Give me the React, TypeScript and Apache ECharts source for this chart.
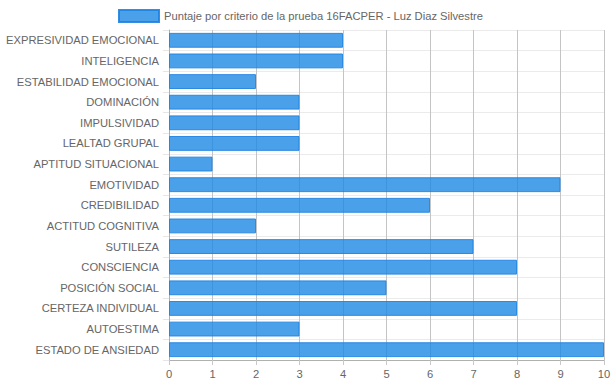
import React, { useEffect, useRef } from "react";
import * as echarts from "echarts";

const categories = [
  "EXPRESIVIDAD EMOCIONAL",
  "INTELIGENCIA",
  "ESTABILIDAD EMOCIONAL",
  "DOMINACIÓN",
  "IMPULSIVIDAD",
  "LEALTAD GRUPAL",
  "APTITUD SITUACIONAL",
  "EMOTIVIDAD",
  "CREDIBILIDAD",
  "ACTITUD COGNITIVA",
  "SUTILEZA",
  "CONSCIENCIA",
  "POSICIÓN SOCIAL",
  "CERTEZA INDIVIDUAL",
  "AUTOESTIMA",
  "ESTADO DE ANSIEDAD",
];
const scores = [4, 4, 2, 3, 3, 3, 1, 9, 6, 2, 7, 8, 5, 8, 3, 10];
const seriesName = "Puntaje por criterio de la prueba 16FACPER - Luz Diaz Silvestre";

const FONT = "'Liberation Sans', Arial, Helvetica, sans-serif";

export default function App() {
  const ref = useRef<HTMLDivElement>(null);
  useEffect(() => {
    document.body.style.margin = "0";
    const chart = echarts.init(ref.current!, null, { renderer: "svg" });
    chart.setOption({
      animation: false,
      textStyle: { fontFamily: FONT },
      legend: {
        left: 113,
        top: 4,
        itemWidth: 40,
        itemHeight: 12,
        itemGap: 5,
        icon: "rect",
        textStyle: { fontSize: 11.2, color: "#666", fontFamily: FONT },
        data: [seriesName],
      },
      grid: { left: 169, right: 9, top: 30, bottom: 28, containLabel: false, outerBoundsMode: "none" },
      xAxis: {
        type: "value",
        min: 0,
        max: 10,
        interval: 1,
        axisLine: { show: true, lineStyle: { color: "#b0b0b0" } },
        axisTick: { show: true, length: 5, lineStyle: { color: "#c8c8c8" } },
        axisLabel: { color: "#666", fontSize: 11.2, margin: 8, fontFamily: FONT },
        splitLine: { show: true, lineStyle: { color: "#c4c4c4" } },
      },
      yAxis: {
        type: "category",
        inverse: true,
        data: categories,
        axisLine: { show: true, lineStyle: { color: "#b0b0b0" } },
        axisTick: { show: true, length: 6, lineStyle: { color: "#e6e6e6" } },
        axisLabel: { color: "#666", fontSize: 11.2, margin: 10, fontFamily: FONT },
        splitLine: { show: true, lineStyle: { color: "#ebebeb" } },
      },
      series: [
        {
          name: seriesName,
          type: "bar",
          data: scores,
          barWidth: "72%",
          itemStyle: {
            color: "rgba(30,136,229,0.8)",
            borderColor: "rgba(30,130,225,0.9)",
            borderWidth: 1,
          },
        },
      ],
    });
    return () => chart.dispose();
  }, []);
  return <div ref={ref} style={{ width: 613, height: 388 }} />;
}
